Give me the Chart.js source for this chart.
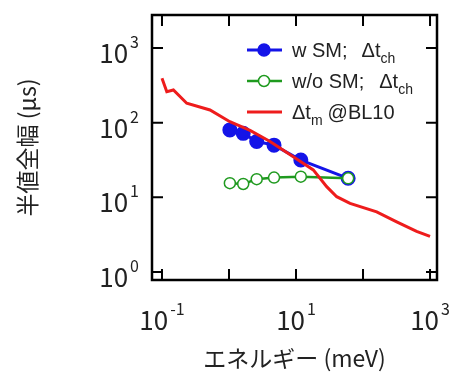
<!DOCTYPE html>
<html>
<head>
<meta charset="utf-8">
<script src="https://cdn.jsdelivr.net/npm/chart.js@4"></script>
<style>
  body { margin: 0; background: #fff; }
  #wrap { width: 451px; height: 372px; }
</style>
</head>
<body>
<div id="wrap"><canvas id="myChart"></canvas></div>
<script>
// data (energy in meV, FWHM in µs)
var redEnergy = [0.1, 0.118, 0.148, 0.234, 0.52, 1.03, 2.06, 4.1, 9.1, 18.1, 28.7, 40.5, 64, 160, 318, 631, 1000];
var redWidth = [393, 260, 274, 182, 148, 103, 79, 56, 35, 23.3, 13.9, 10.2, 8.3, 6.4, 4.7, 3.5, 3.0];
var smEnergy = [1.03, 1.63, 2.59, 4.7, 11.8, 60];
var smWidth = [80, 72, 56, 50, 31.6, 18];
var noSmEnergy = [1.03, 1.63, 2.59, 4.7, 11.8, 60];
var noSmWidth = [15.5, 15.1, 17.5, 18.4, 18.9, 18];
var xTickExps = [-1, 0, 1, 2, 3];
var xLabelExps = [-1, 1, 3];
var yTickExps = [0, 1, 2, 3];

function pts(xs, ys) {
  return xs.map(function (x, i) { return { x: x, y: ys[i] }; });
}

var BLUE = '#1414e8', GREEN = '#1f9a1f', RED = '#ee1c1c', INK = '#222';

// frame, inside ticks, labels, legend, titles
var decor = {
  id: 'decor',
  afterDraw: function (chart) {
    var c = chart.ctx, a = chart.chartArea;
    var xs = chart.scales.x, ys = chart.scales.y;
    c.save();
    c.strokeStyle = '#000';
    c.lineWidth = 2.5;
    c.strokeRect(a.left, a.top, a.right - a.left, a.bottom - a.top);
    c.lineWidth = 2;
    var tl = 11;
    xTickExps.forEach(function (e) {
      var x = xs.getPixelForValue(Math.pow(10, e));
      c.beginPath();
      c.moveTo(x, a.bottom); c.lineTo(x, a.bottom - tl);
      c.moveTo(x, a.top); c.lineTo(x, a.top + tl);
      c.stroke();
    });
    yTickExps.forEach(function (e) {
      var y = ys.getPixelForValue(Math.pow(10, e));
      c.beginPath();
      c.moveTo(a.left, y); c.lineTo(a.left + tl, y);
      c.moveTo(a.right, y); c.lineTo(a.right - tl, y);
      c.stroke();
    });

    // tick labels 10^n
    var big = '26px "Noto Sans CJK JP", "Noto Sans", sans-serif';
    var small = '16px "Noto Sans CJK JP", "Noto Sans", sans-serif';
    c.fillStyle = INK;
    c.textBaseline = 'alphabetic';
    c.textAlign = 'left';
    function powLabel(e, x, y, align) {
      c.font = big;
      var w1 = c.measureText('10').width;
      c.font = small;
      var sup = String(e);
      var w2 = c.measureText(sup).width;
      var total = w1 + 2 + w2;
      var x0 = align === 'center' ? x - total / 2 : x - total;
      c.font = big;
      c.fillText('10', x0, y);
      c.font = small;
      c.fillText(sup, x0 + w1 + 2, y - 15);
    }
    xLabelExps.forEach(function (e) {
      powLabel(e, xs.getPixelForValue(Math.pow(10, e)), a.bottom + 50, 'center');
    });
    yTickExps.forEach(function (e) {
      powLabel(e, a.left - 13, ys.getPixelForValue(Math.pow(10, e)) + 15, 'right');
    });

    // axis titles
    c.font = '23px "Noto Sans CJK JP", sans-serif';
    c.textAlign = 'center';
    c.textBaseline = 'middle';
    c.fillText('エネルギー (meV)', (a.left + a.right) / 2, 358);
    c.save();
    c.translate(27, (a.top + a.bottom) / 2);
    c.rotate(-Math.PI / 2);
    c.fillText('半値全幅 (µs)', 0, 0);
    c.restore();

    // legend
    var lx0 = 247, lx1 = 282, mx = 264, tx = 292;
    var rows = [a.top + 35, a.top + 66, a.top + 97];
    var main = '20px "Liberation Sans", Arial, sans-serif';
    var sub = '14px "Liberation Sans", Arial, sans-serif';
    c.textAlign = 'left';
    c.textBaseline = 'alphabetic';
    function sample(y, color, filled, lw) {
      c.strokeStyle = color;
      c.lineWidth = lw;
      c.beginPath(); c.moveTo(lx0, y); c.lineTo(lx1, y); c.stroke();
      if (filled === null) return;
      c.beginPath();
      c.arc(mx, y, filled ? 6 : 5.5, 0, Math.PI * 2);
      c.fillStyle = filled ? color : '#fff';
      c.fill();
      c.lineWidth = 1.5;
      c.stroke();
    }
    function dtLabel(y, head, gap, subTxt, tail) {
      c.fillStyle = INK;
      c.font = main;
      var x = tx;
      if (head) { c.fillText(head, x, y + 7); x += c.measureText(head).width + gap; }
      c.fillText('Δt', x, y + 7);
      x += c.measureText('Δt').width;
      c.font = sub;
      c.fillText(subTxt, x, y + 13);
      x += c.measureText(subTxt).width;
      if (tail) { c.font = main; c.fillText(tail, x + 5, y + 7); }
    }
    sample(rows[0], BLUE, true, 3);
    dtLabel(rows[0], 'w SM;', 14, 'ch', '');
    sample(rows[1], GREEN, false, 2.5);
    dtLabel(rows[1], 'w/o SM;', 15, 'ch', '');
    sample(rows[2], RED, null, 3);
    dtLabel(rows[2], '', 0, 'm', '@BL10');
    c.restore();
  }
};

var ctx = document.getElementById('myChart').getContext('2d');
var myChart = new Chart(ctx, {
  type: 'line',
  data: {
    datasets: [{
      label: 'Δt_m @BL10',
      data: pts(redEnergy, redWidth),
      borderColor: RED,
      borderWidth: 3,
      pointRadius: 0,
      order: 0
    }, {
      label: 'w/o SM; Δt_ch',
      data: pts(noSmEnergy, noSmWidth),
      borderColor: GREEN,
      backgroundColor: '#fff',
      borderWidth: 2.5,
      pointRadius: 5.5,
      pointBorderWidth: 1.5,
      pointBackgroundColor: '#fff',
      order: 1
    }, {
      label: 'w SM; Δt_ch',
      data: pts(smEnergy, smWidth),
      borderColor: BLUE,
      backgroundColor: BLUE,
      borderWidth: 3,
      pointRadius: 6,
      pointBackgroundColor: BLUE,
      order: 2
    }]
  },
  options: {
    responsive: true,
    maintainAspectRatio: false,
    animation: false,
    layout: { padding: { left: 152, top: 15, right: 14, bottom: 92 } },
    scales: {
      x: { type: 'logarithmic', display: false, min: Math.pow(10, -1.149), max: Math.pow(10, 3.104) },
      y: { type: 'logarithmic', display: false, min: Math.pow(10, -0.107), max: Math.pow(10, 3.442) }
    },
    plugins: {
      legend: { display: false },
      tooltip: { enabled: false }
    }
  },
  plugins: [decor]
});
</script>
</body>
</html>
